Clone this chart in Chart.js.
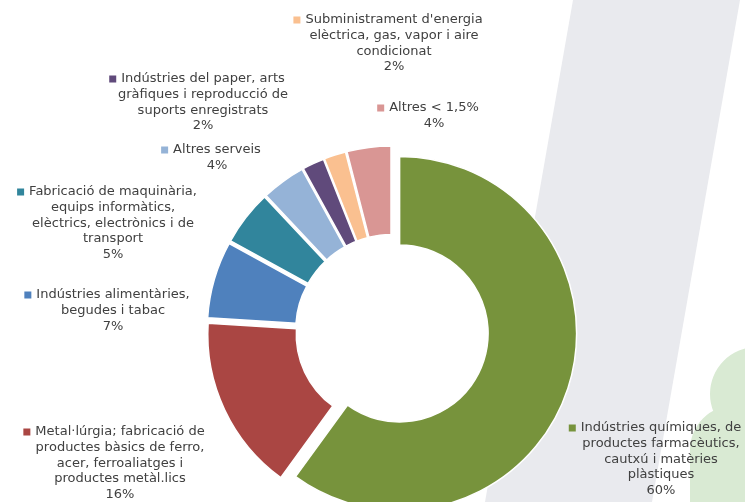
<!DOCTYPE html>
<html>
<head>
<meta charset="utf-8">
<script src="https://cdn.jsdelivr.net/npm/chart.js@4/dist/chart.umd.min.js"></script>
<style>
  html, body { margin: 0; padding: 0; background: #fff; }
  #wrap { width: 745px; height: 502px; }
</style>
</head>
<body>
<div id="wrap"><canvas id="chart" width="745" height="502"></canvas></div>
<script>
// --- Données ---
const categories = [
  ["Indústries químiques, de", "productes farmacèutics,", "cautxú i matèries", "plàstiques"],
  ["Metal·lúrgia; fabricació de", "productes bàsics de ferro,", "acer, ferroaliatges i", "productes metàl.lics"],
  ["Indústries alimentàries,", "begudes i tabac"],
  ["Fabricació de maquinària,", "equips informàtics,", "elèctrics, electrònics i de", "transport"],
  ["Altres serveis"],
  ["Indústries del paper, arts", "gràfiques i reproducció de", "suports enregistrats"],
  ["Subministrament d'energia", "elèctrica, gas, vapor i aire", "condicionat"],
  ["Altres < 1,5%"],
];
const values = [60, 16, 7, 5, 4, 2, 2, 4];

const colors = ["#77933C", "#AA4643", "#4F81BD", "#31859C", "#95B3D7", "#604A7B", "#FAC090", "#D99694"];

// position des étiquettes (centre x, y de la 1re ligne)
const labelPos = [
  [661, 428], [120, 432], [113, 295], [113, 192],
  [217, 150], [203, 79], [394, 20], [434, 108],
];

const EXPLODE = 8; // écartement de chaque part, px

// --- Fond décoratif ---
const backdrop = {
  id: "backdrop",
  beforeDraw(chart) {
    const ctx = chart.ctx;
    ctx.save();
    ctx.fillStyle = "#fff";
    ctx.fillRect(0, 0, chart.width, chart.height);

    ctx.fillStyle = "#E9EAEE";
    ctx.beginPath();
    ctx.moveTo(573, 0);
    ctx.lineTo(740, 0);
    ctx.lineTo(652, 502);
    ctx.lineTo(485, 502);
    ctx.closePath();
    ctx.fill();

    ctx.fillStyle = "#D9EAD3";
    ctx.beginPath();
    ctx.arc(757, 394, 47, 0, Math.PI * 2);
    ctx.moveTo(780, 450);
    ctx.arc(735, 450, 45, 0, Math.PI * 2);
    ctx.fill();
    ctx.fillRect(690, 450, 60, 52);
    ctx.restore();
  },
};

// écarte les parts du centre sans agrandir le rayon
const explode = {
  id: "explode",
  afterUpdate(chart) {
    chart.getDatasetMeta(0).data.forEach((arc) => {
      const mid = (arc.startAngle + arc.endAngle) / 2;
      arc.x += Math.cos(mid) * EXPLODE;
      arc.y += Math.sin(mid) * EXPLODE;
    });
  },
};

// --- Étiquettes avec clé de légende ---
const sliceLabels = {
  id: "sliceLabels",
  afterDraw(chart) {
    const ctx = chart.ctx;
    const total = values.reduce((a, b) => a + b, 0);
    const lh = 15.6;
    ctx.save();
    ctx.font = "13px 'DejaVu Sans', Verdana, sans-serif";
    ctx.textAlign = "center";
    ctx.textBaseline = "middle";
    categories.forEach((lines, i) => {
      const [cx, y0] = labelPos[i];
      const all = lines.concat([Math.round((values[i] / total) * 100) + "%"]);
      ctx.fillStyle = "#404040";
      all.forEach((t, k) => ctx.fillText(t, cx, y0 + k * lh));
      const w = ctx.measureText(lines[0]).width;
      ctx.fillStyle = colors[i];
      ctx.fillRect(cx - w / 2 - 12, y0 - 3.5, 7, 7);
    });
    ctx.restore();
  },
};

new Chart(document.getElementById("chart"), {
  type: "doughnut",
  data: {
    labels: categories,
    datasets: [{
      data: values,
      backgroundColor: colors,
      borderColor: "#fff",
      borderWidth: 1.5,
    }],
  },
  options: {
    responsive: false,
    animation: false,
    radius: 177,
    cutout: "50%",
    layout: { padding: { left: 39, right: 0, top: 160, bottom: 0 } },
    plugins: { legend: { display: false }, tooltip: { enabled: false } },
  },
  plugins: [backdrop, explode, sliceLabels],
});
</script>
</body>
</html>
